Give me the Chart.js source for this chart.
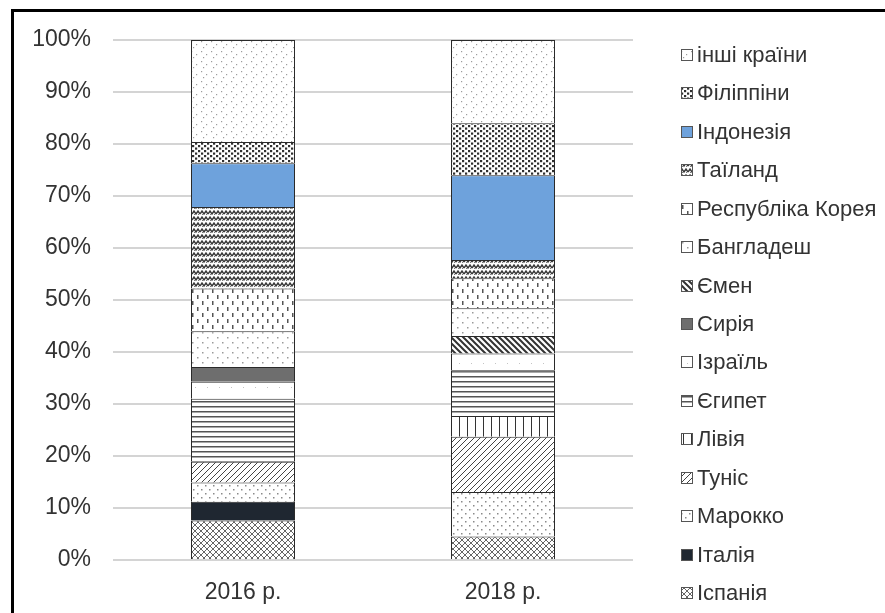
<!DOCTYPE html>
<html>
<head>
<meta charset="utf-8">
<script src="https://cdn.jsdelivr.net/npm/chart.js@4"></script>
<style>
html,body{margin:0;padding:0;background:#fff;}
canvas{display:block;}
</style>
</head>
<body>
<canvas id="chart" width="885" height="613"></canvas>
<script>
// data (shares, %)
const categories = ['2016 р.', '2018 р.'];
const countries = ['Іспанія','Італія','Марокко','Туніс','Лівія','Єгипет','Ізраїль','Сирія','Ємен','Бангладеш','Республіка Корея','Таїланд','Індонезія','Філіппіни','інші країни'];
const share2016 = [7.6, 3.6, 3.7, 4.0, 0, 12.1, 3.3, 2.8, 0, 6.9, 8.2, 15.7, 8.4, 4.1, 19.6];
const share2018 = [4.5, 0, 8.6, 10.6, 4.0, 8.8, 3.2, 0, 3.4, 5.3, 5.8, 3.5, 16.3, 10.0, 16.0];
const yTicks = [0,10,20,30,40,50,60,70,80,90,100];

// small tiles for the hatch fills
function tile(w, h, bg, draw){
  const c = document.createElement('canvas');
  c.width = w; c.height = h;
  const g = c.getContext('2d');
  g.fillStyle = bg; g.fillRect(0,0,w,h);
  draw(g, w, h);
  return g.createPattern(c, 'repeat');
}
function dots(list, col, r){
  return (g)=>{ g.fillStyle = col; list.forEach(p=>g.fillRect(p[0],p[1],r,r)); };
}

const fills = [
  // Іспанія - fine cross hatch
  tile(6,6,'#fff',(g)=>{ g.strokeStyle='#666'; g.lineWidth=1; g.beginPath(); g.moveTo(0,0); g.lineTo(6,6); g.moveTo(6,0); g.lineTo(0,6); g.stroke(); }),
  '#1f2731',
  // Марокко - dots
  tile(8,8,'#fff',dots([[1,1],[5,5]],'#8a8a8a',1.5)),
  // Туніс - ///
  tile(6,6,'#fff',(g)=>{ g.strokeStyle='#444'; g.lineWidth=1; g.beginPath(); g.moveTo(0,6); g.lineTo(6,0); g.moveTo(-1,1); g.lineTo(1,-1); g.moveTo(5,7); g.lineTo(7,5); g.stroke(); }),
  // Лівія - vertical lines
  tile(8,8,'#fff',(g)=>{ g.fillStyle='#333'; g.fillRect(3,0,1,8); }),
  // Єгипет - horizontal lines
  tile(4,5,'#fff',(g)=>{ g.fillStyle='#555'; g.fillRect(0,1,4,1.5); }),
  // Ізраїль - almost white
  tile(12,12,'#fff',dots([[3,3]],'#c4c4c4',1)),
  '#6e6e6e',
  // Ємен - dark \\\
  tile(6,6,'#fff',(g)=>{ g.strokeStyle='#333'; g.lineWidth=2; g.beginPath(); g.moveTo(0,0); g.lineTo(6,6); g.moveTo(5,-1); g.lineTo(7,1); g.moveTo(-1,5); g.lineTo(1,7); g.stroke(); }),
  // Бангладеш - sparse dots
  tile(10,10,'#fff',dots([[2,2],[7,7]],'#9a9a9a',1.5)),
  // Республіка Корея - vertical dashes
  tile(10,12,'#fff',(g)=>{ g.fillStyle='#555'; g.fillRect(2,1,1.5,4); g.fillRect(7,7,1.5,4); }),
  // Таїланд - waves
  tile(8,6,'#fff',(g)=>{ g.strokeStyle='#3a3a3a'; g.lineWidth=1.4; g.beginPath(); g.moveTo(0,4); g.lineTo(2,1); g.lineTo(4,4); g.lineTo(6,1); g.lineTo(8,4); g.stroke(); g.fillStyle='#777'; g.fillRect(2,4,1,1); g.fillRect(6,4,1,1); }),
  '#6ea2dc',
  // Філіппіни - dense dark dots
  tile(6,5,'#fff',dots([[0,0],[3,2.5]],'#2e2e2e',2.2)),
  // інші країни - sparse speckle
  tile(10,10,'#fff',dots([[1,1],[6,4],[3,7]],'#9c9c9c',1.2))
];

const frame = {
  id: 'frame',
  beforeDraw(chart){
    const ctx = chart.ctx;
    ctx.save();
    ctx.fillStyle = '#fff';
    ctx.fillRect(0,0,chart.width,chart.height);
    ctx.fillStyle = '#000';
    ctx.fillRect(11,9,chart.width-11,3);
    ctx.fillRect(11,9,3,chart.height-9);
    ctx.restore();
  }
};

const sideLegend = {
  id: 'sideLegend',
  afterDraw(chart){
    const ctx = chart.ctx;
    const ds = chart.data.datasets;
    ctx.save();
    ctx.font = '22px "Liberation Sans", Arial, sans-serif';
    ctx.textBaseline = 'middle';
    for(let k=0;k<ds.length;k++){
      const d = ds[ds.length-1-k];
      const y = Math.round(55 + k*38.43);
      ctx.fillStyle = d.backgroundColor;
      ctx.fillRect(681,y-6,12,12);
      ctx.strokeStyle = '#555'; ctx.lineWidth = 1;
      ctx.strokeRect(681.5,y-5.5,11,11);
      ctx.fillStyle = '#333';
      ctx.fillText(d.label,697,y+1);
    }
    ctx.restore();
  }
};

const datasets = countries.map((name,i)=>({
  label: name,
  data: [share2016[i], share2018[i]],
  backgroundColor: fills[i],
  borderColor: '#2a2a2a',
  borderWidth: 1,
  barPercentage: 0.5,
  categoryPercentage: 0.8
}));

new Chart(document.getElementById('chart').getContext('2d'), {
  type: 'bar',
  data: { labels: categories, datasets },
  options: {
    responsive: false,
    animation: false,
    layout: { padding: { top: 40, right: 252, left: 0, bottom: 0 } },
    plugins: { legend: { display: false }, tooltip: { enabled: false } },
    scales: {
      x: {
        stacked: true,
        grid: { display: false },
        border: { display: false },
        ticks: { color: '#333', font: { family: '"Liberation Sans", Arial', size: 23 }, padding: 11 },
        afterFit(s){ s.height = 53; }
      },
      y: {
        stacked: true,
        min: 0, max: 100,
        afterBuildTicks(s){ s.ticks = yTicks.map(v=>({value:v})); },
        grid: { color: '#d4d4d4', lineWidth: 2, drawTicks: false },
        border: { display: false },
        ticks: { color: '#333', font: { family: '"Liberation Sans", Arial', size: 23 }, padding: 22, callback: v => v + '%' },
        afterFit(s){ s.width = 113; }
      }
    }
  },
  plugins: [frame, sideLegend]
});
</script>
</body>
</html>
